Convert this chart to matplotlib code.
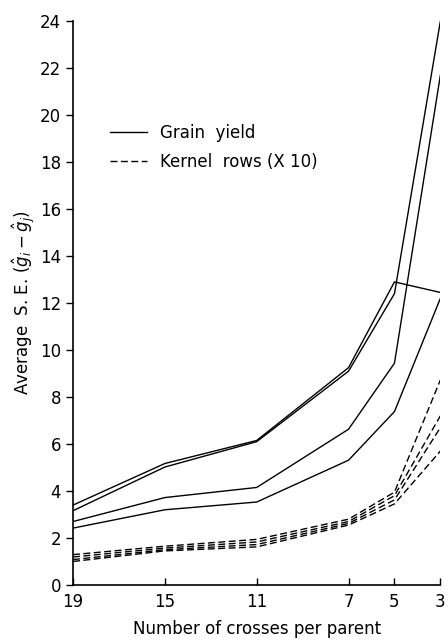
import matplotlib
matplotlib.use('Agg')
import matplotlib.pyplot as plt

# crosses per parent (x axis, reversed)
crosses = [19, 15, 11, 7, 5, 3]

# grain yield, solid lines
grain_1 = [3.40, 5.17, 6.15, 9.25, 12.9, 12.45]
grain_2 = [3.16, 5.02, 6.10, 9.10, 12.4, 24.0]
grain_3 = [2.70, 3.72, 4.15, 6.63, 9.44, 21.7]
grain_4 = [2.42, 3.20, 3.53, 5.31, 7.38, 12.2]

# kernel rows (x10), dashed lines
kernel_1 = [1.29, 1.65, 1.94, 2.80, 3.95, 8.73]
kernel_2 = [1.19, 1.57, 1.83, 2.70, 3.80, 7.20]
kernel_3 = [1.08, 1.50, 1.72, 2.62, 3.62, 6.70]
kernel_4 = [1.00, 1.45, 1.62, 2.55, 3.45, 5.70]

yticks = list(range(0, 25, 2))
xticks = crosses

plt.rcParams['font.family'] = ['DejaVu Sans']

fig = plt.figure(figsize=(4.48, 6.4), dpi=100)
ax = fig.add_axes([0.163, 0.086, 0.82, 0.881])

for i, g in enumerate([grain_1, grain_2, grain_3, grain_4]):
    ax.plot(crosses, g, color='black', lw=1.0,
            label='Grain  yield' if i == 0 else None)
for i, k in enumerate([kernel_1, kernel_2, kernel_3, kernel_4]):
    ax.plot(crosses, k, color='black', lw=1.0, dashes=(5, 2.5),
            label='Kernel  rows (X 10)' if i == 0 else None)

ax.set_xlim(19, 3)
ax.set_ylim(0, 24)
ax.set_xticks(xticks)
ax.set_yticks(yticks)
ax.tick_params(axis='x', direction='in', length=5, width=1.0, labelsize=12, pad=6)
ax.tick_params(axis='y', direction='out', length=5, width=1.0, labelsize=12)
for s in ['top', 'right']:
    ax.spines[s].set_visible(False)
for s in ['left', 'bottom']:
    ax.spines[s].set_linewidth(1.2)

ax.set_xlabel('Number of crosses per parent', fontsize=12, labelpad=6)
ax.set_ylabel(r'Average  S. E. $(\hat{g}_i - \hat{g}_j)$', fontsize=12, labelpad=2)

ax.legend(loc='upper left', bbox_to_anchor=(0.06, 0.845), frameon=False,
          fontsize=12, handlelength=2.2, handletextpad=0.8, labelspacing=0.7)

fig.savefig('out.png', dpi=100)
